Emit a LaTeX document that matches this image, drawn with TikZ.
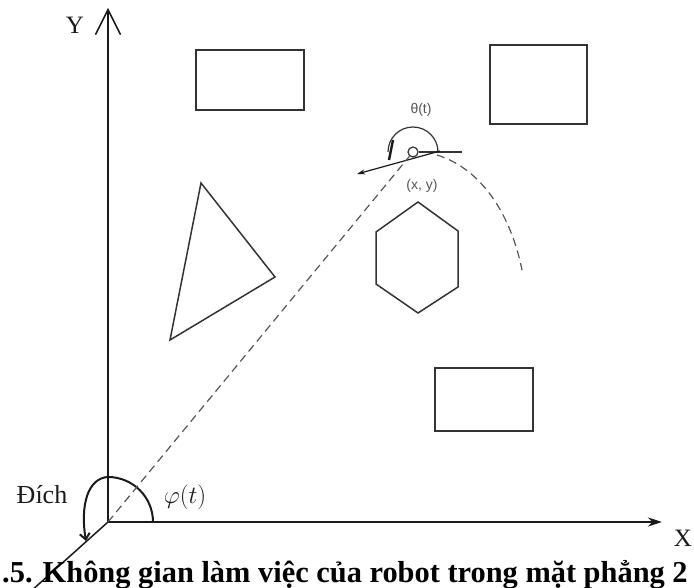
\documentclass[tikz,border=0pt]{standalone}
\usepackage{fontspec}
\setmainfont{Liberation Serif}
\newfontfamily\labelsans{Liberation Sans}
\usepackage{tikz}
\usetikzlibrary{arrows.meta, positioning, calc}
\definecolor{inkdark}{HTML}{1A1A1A}
\definecolor{shapegray}{HTML}{333333}
\definecolor{pathgray}{HTML}{555555}

\begin{document}
\begin{tikzpicture}[
    x=1pt, y=-1pt,
    axis/.style={line width=2.8pt, color=inkdark},
    obstacle/.style={line width=1.5pt, color=shapegray},
    trace/.style={line width=1.2pt, color=pathgray, dash pattern=on 8pt off 5pt},
    bigtext/.style={font=\fontsize{#1}{#1}\selectfont, inner sep=0pt, text=inkdark},
    smalltext/.style={font=\labelsans\fontsize{14}{14}\selectfont, inner sep=0pt, text=pathgray}
]
\useasboundingbox (0,0) rectangle (694,588);

% Axes
\coordinate (O) at (108,522);
\coordinate (ytip) at (108,8);
\coordinate (xtip) at (662,522);
\coordinate (zend) at (30,592);
\draw[axis, -{Straight Barb[length=25pt, width=25pt, line width=1.5pt]}] (O) -- (ytip);
\draw[axis, -{Stealth[length=14pt, width=9pt]}] (O) -- (xtip);
\draw[line width=1.5pt, color=inkdark] (O) -- (zend);

\node[bigtext=25] (ylabel) at (75,25) {Y};
\node[bigtext=25] (xlabel) at (683,538) {X};

% Angle at the origin
\coordinate (phistart) at (153,522);
\coordinate (goaltip) at (86,541);
\draw[line width=2pt, color=inkdark, -{Straight Barb[length=6pt, width=10pt]}]
    (phistart) arc[start angle=0, end angle=90, radius=45pt]
    .. controls (88,478) and (80,505) .. (goaltip);
\node[bigtext=26] (goal) at (42,495) {Đích};
\node[bigtext=26] (phi) at (185,497) {$\varphi(t)$};

% Obstacles
\draw[obstacle] (196,50) rectangle (304,110);
\draw[obstacle] (490,45) rectangle (587,124);
\draw[obstacle] (435,368) rectangle (533,431);
\draw[obstacle] (201,183) -- (275,277) -- (170,340) -- cycle;
\draw[obstacle] (418,202) -- (458,231) -- (458,287) -- (418,313)
    -- (376,284) -- (376,232) -- cycle;

% Robot
\node[circle, draw=shapegray, line width=1.2pt, minimum size=10pt, inner sep=0pt] (robot) at (413,152) {};
\draw[line width=1.2pt, color=shapegray] (438,152) arc[start angle=0, end angle=180, radius=25pt];
\draw[line width=2.4pt, color=inkdark] (389,160) -- (393,140);
\coordinate (headend) at (462,152);
\draw[line width=1.2pt, color=shapegray] (robot.east) -- (headend);
\coordinate (headtail) at (440,151);
\coordinate (headtip) at (357,174);
\draw[line width=1.2pt, color=inkdark, -{Stealth[length=8pt, width=5pt]}] (headtail) -- (headtip);
\node[smalltext] (theta) at (421,110) {θ(t)};
\node[smalltext] (pos) at (422,186) {(x, y)};

% Trajectory
\coordinate (trajend) at (522,270);
\draw[trace] (O) -- (robot);
\draw[trace] (437,155) .. controls (485,170) and (512,220) .. (trajend);

% Caption
\node[font=\bfseries\fontsize{30.4}{31}\selectfont, inner sep=0pt, anchor=base west] (caption)
    at (2,582) {.5. Không gian làm việc của robot trong mặt phẳng 2};
\end{tikzpicture}
\end{document}
